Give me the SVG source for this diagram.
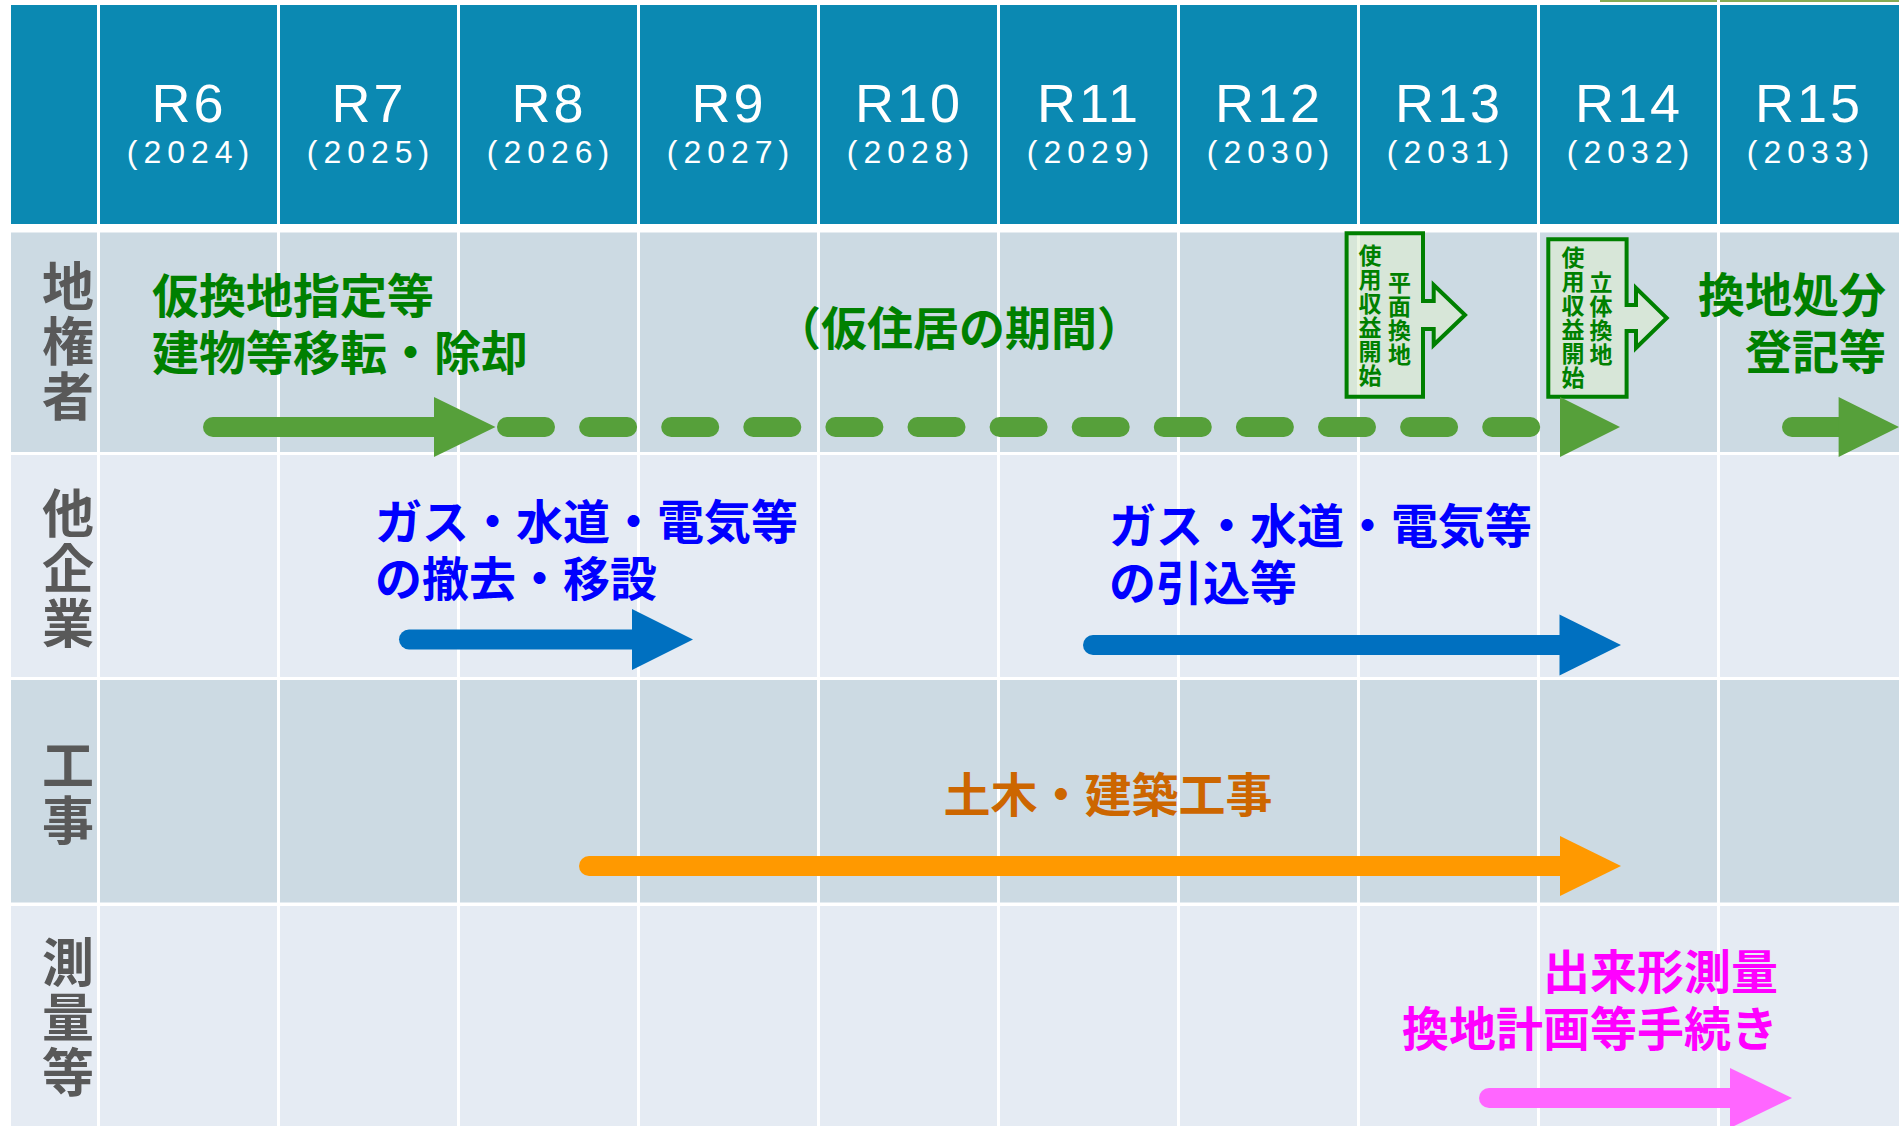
<svg xmlns="http://www.w3.org/2000/svg" width="1899" height="1126" viewBox="0 0 1899 1126">
<style>
.hdr{fill:#0B89B2}
.rowA{fill:#CCDAE3}
.rowB{fill:#E5EBF3}
.vline{stroke:#FFFFFF;stroke-width:3}
.rt{font-family:'Liberation Sans',Arial,sans-serif;fill:#FFFFFF;text-anchor:middle}
.rn{font-size:54px;letter-spacing:3px}
.yr{font-size:32px;letter-spacing:6px}
.jp{font-family:'Noto Sans CJK JP','Noto Sans CJK SC',sans-serif;font-weight:700}
.lab{font-size:52px;fill:#595959;letter-spacing:3px;writing-mode:vertical-rl;text-anchor:start}
.t47{font-size:47px}
.g{fill:#008000}
.b{fill:#0000FF}
.o{fill:#CC6600}
.m{fill:#FF00FF}
.vt{font-size:23px;fill:#008000;letter-spacing:1px;writing-mode:vertical-rl;text-anchor:start}
.box{fill:#DDEED0;fill-opacity:0.6;stroke:#008000;stroke-width:4;stroke-linejoin:miter}
.shaft{stroke-width:20;stroke-linecap:round;fill:none}
</style>
<rect x="0" y="0" width="1899" height="1126" fill="#FFFFFF"/>
<rect x="1600" y="0" width="299" height="2" fill="#86AB55"/>
<g id="grid">
<rect class="hdr" x="11" y="5" width="1888" height="219"/>
<rect class="rowA" x="11" y="232.5" width="1888" height="219.5"/>
<rect class="rowB" x="11" y="455" width="1888" height="222"/>
<rect class="rowA" x="11" y="680" width="1888" height="222.5"/>
<rect class="rowB" x="11" y="906" width="1888" height="220"/>
<g class="vline">
<line x1="98.5" y1="0" x2="98.5" y2="1126"/>
<line x1="278.5" y1="0" x2="278.5" y2="1126"/>
<line x1="458.5" y1="0" x2="458.5" y2="1126"/>
<line x1="638.5" y1="0" x2="638.5" y2="1126"/>
<line x1="818.5" y1="0" x2="818.5" y2="1126"/>
<line x1="998.5" y1="0" x2="998.5" y2="1126"/>
<line x1="1178.5" y1="0" x2="1178.5" y2="1126"/>
<line x1="1358.5" y1="0" x2="1358.5" y2="1126"/>
<line x1="1538.5" y1="0" x2="1538.5" y2="1126"/>
<line x1="1718.5" y1="0" x2="1718.5" y2="1126"/>
</g>
<rect x="0" y="0" width="1600" height="5" fill="#FFFFFF"/>
<rect x="1600" y="2" width="299" height="3" fill="#FFFFFF"/>
</g>
<g id="header">
<text class="rt rn" x="189" y="122">R6</text><text class="rt yr" x="191" y="163">(2024)</text>
<text class="rt rn" x="369" y="122">R7</text><text class="rt yr" x="371" y="163">(2025)</text>
<text class="rt rn" x="549" y="122">R8</text><text class="rt yr" x="551" y="163">(2026)</text>
<text class="rt rn" x="729" y="122">R9</text><text class="rt yr" x="731" y="163">(2027)</text>
<text class="rt rn" x="909" y="122">R10</text><text class="rt yr" x="911" y="163">(2028)</text>
<text class="rt rn" x="1089" y="122">R11</text><text class="rt yr" x="1091" y="163">(2029)</text>
<text class="rt rn" x="1269" y="122">R12</text><text class="rt yr" x="1271" y="163">(2030)</text>
<text class="rt rn" x="1449" y="122">R13</text><text class="rt yr" x="1451" y="163">(2031)</text>
<text class="rt rn" x="1629" y="122">R14</text><text class="rt yr" x="1631" y="163">(2032)</text>
<text class="rt rn" x="1809" y="122">R15</text><text class="rt yr" x="1811" y="163">(2033)</text>
</g>
<g id="label-chikensha">
<text class="jp lab" x="68" y="260">地権者</text>
</g>
<g id="label-takigyo">
<text class="jp lab" x="68" y="487">他企業</text>
</g>
<g id="label-koji">
<text class="jp lab" x="68" y="739">工事</text>
</g>
<g id="label-sokuryo">
<text class="jp lab" x="68" y="936">測量等</text>
</g>
<g id="text-karikanchi">
<text class="jp t47 g"><tspan x="152" y="313">仮換地指定等</tspan><tspan x="152" y="370">建物等移転・除却</tspan></text>
</g>
<g id="text-karijukyo">
<text class="jp g" x="959" y="345" font-size="46" text-anchor="middle">（仮住居の期間）</text>
</g>
<g id="box-heimen">
<path class="box" d="M1346.6,233.3 H1423 V301 H1433.7 V285 L1465,315 L1433.7,345 V329 H1423 V396.7 H1346.6 Z"/>
<text class="jp vt" x="1370" y="244">使用収益開始</text>
<text class="jp vt" x="1399.5" y="271">平面換地</text>
</g>
<g id="box-rittai">
<path class="box" d="M1548.3,239.3 H1626.6 V305 H1636 V288 L1666.7,318 L1636,348 V331 H1626.6 V396.7 H1548.3 Z"/>
<text class="jp vt" x="1573" y="245.5">使用収益開始</text>
<text class="jp vt" x="1601" y="271">立体換地</text>
</g>
<g id="text-kanchishobun">
<text class="jp t47 g" text-anchor="end"><tspan x="1886" y="312">換地処分</tspan><tspan x="1886" y="369">登記等</tspan></text>
</g>
<g id="text-tekkyo">
<text class="jp t47 b"><tspan x="375" y="539">ガス・水道・電気等</tspan><tspan x="375" y="596">の撤去・移設</tspan></text>
</g>
<g id="text-hikikomi">
<text class="jp t47 b"><tspan x="1109" y="543">ガス・水道・電気等</tspan><tspan x="1109" y="600">の引込等</tspan></text>
</g>
<g id="text-doboku">
<text class="jp t47 o" x="1108" y="812" text-anchor="middle">土木・建築工事</text>
</g>
<g id="text-sokuryo">
<text class="jp t47 m" text-anchor="end"><tspan x="1778" y="989">出来形測量</tspan><tspan x="1778" y="1046">換地計画等手続き</tspan></text>
</g>
<g id="connectors">
<g fill="#56A03A">
<line class="shaft" x1="213" y1="427" x2="440" y2="427" stroke="#56A03A"/>
<polygon points="434,397 434,457 495.5,427"/>
<line class="shaft" x1="507" y1="427" x2="1531" y2="427" stroke="#56A03A" stroke-dasharray="38 44.1"/>
<polygon points="1560,397 1560,457 1620,427"/>
<line class="shaft" x1="1792" y1="427" x2="1845" y2="427" stroke="#56A03A"/>
<polygon points="1838.6,397 1838.6,457 1899,427"/>
</g>
<g fill="#0070C0">
<line class="shaft" x1="409" y1="639.5" x2="640" y2="639.5" stroke="#0070C0" stroke-width="21"/>
<polygon points="632,609 632,670 693,639.5"/>
<line class="shaft" x1="1093" y1="645" x2="1565" y2="645" stroke="#0070C0" stroke-width="21"/>
<polygon points="1559.5,614.5 1559.5,675.5 1621,645"/>
</g>
<g fill="#FF9900">
<line class="shaft" x1="589" y1="866" x2="1565" y2="866" stroke="#FF9900"/>
<polygon points="1560,836 1560,896 1621,866"/>
</g>
<g fill="#FF66FF">
<line class="shaft" x1="1489" y1="1098" x2="1735" y2="1098" stroke="#FF66FF" stroke-width="21"/>
<polygon points="1730,1068 1730,1128 1792,1098"/>
</g>
</g>
</svg>
